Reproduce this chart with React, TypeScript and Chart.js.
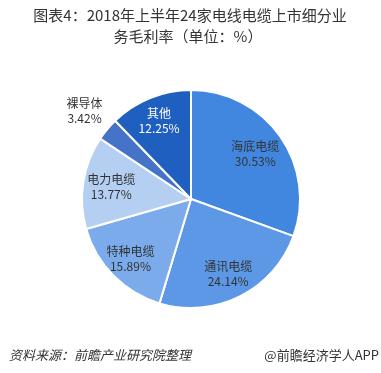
import React, { useEffect, useRef } from "react";
import { Chart, registerables } from "chart.js";

Chart.register(...registerables);

const categories = ["海底电缆", "通讯电缆", "特种电缆", "电力电缆", "裸导体", "其他"];
const values = [30.53, 24.14, 15.89, 13.77, 3.42, 12.25];
const colors = ["#4187E0", "#5C98E6", "#7BABEA", "#B5CFF3", "#4573C8", "#1F5FC0"];
const labelColors = ["#333333", "#333333", "#333333", "#333333", "#333333", "#FFFFFF"];
const labelRadiusFactor = [0.72, 0.76, 0.78, 0.74, 1.27, 0.78];
const titleLines = ["图表4：2018年上半年24家电线电缆上市细分业", "务毛利率（单位：%）"];
const sourceText = "资料来源：前瞻产业研究院整理";
const brandText = "@前瞻经济学人APP";

const FONT = '"Noto Sans CJK SC", "Noto Sans", sans-serif';

const decorPlugin = {
  id: "decor",
  afterDraw(chart: any) {
    const ctx = chart.ctx;
    ctx.save();
    // title
    ctx.fillStyle = "#333333";
    ctx.font = `15px ${FONT}`;
    ctx.textAlign = "center";
    ctx.textBaseline = "middle";
    ctx.fillText(titleLines[0], 190, 15);
    ctx.fillText(titleLines[1], 188, 36);
    // slice labels
    const meta = chart.getDatasetMeta(0);
    meta.data.forEach((arc: any, i: number) => {
      const { x, y, startAngle, endAngle, outerRadius } = arc.getProps(
        ["x", "y", "startAngle", "endAngle", "outerRadius"],
        true
      );
      const mid = (startAngle + endAngle) / 2;
      const r = outerRadius * labelRadiusFactor[i];
      const lx = x + Math.cos(mid) * r;
      const ly = y + Math.sin(mid) * r;
      ctx.fillStyle = labelColors[i];
      ctx.font = `12px ${FONT}`;
      ctx.fillText(categories[i], lx, ly - 7);
      ctx.fillText(values[i].toFixed(2) + "%", lx, ly + 8);
    });
    // footer
    ctx.fillStyle = "#333333";
    ctx.font = `italic 13px ${FONT}`;
    ctx.textAlign = "left";
    ctx.fillText(sourceText, 9, 355);
    ctx.font = `13px ${FONT}`;
    ctx.textAlign = "right";
    ctx.fillText(brandText, 379, 355);
    ctx.restore();
  },
};

export default function App() {
  const ref = useRef<HTMLCanvasElement>(null);
  useEffect(() => {
    if (!ref.current) return;
    const chart = new Chart(ref.current, {
      type: "pie",
      data: {
        labels: categories,
        datasets: [
          {
            data: values,
            backgroundColor: colors,
            borderColor: "#FFFFFF",
            borderWidth: 2,
          },
        ],
      },
      options: {
        animation: false,
        responsive: false,
        layout: { padding: { left: 81, right: 80, top: 89, bottom: 64 } },
        plugins: {
          legend: { display: false },
          title: { display: false },
          tooltip: { enabled: false },
        },
      },
      plugins: [decorPlugin],
    });
    return () => chart.destroy();
  }, []);
  return (
    <div style={{ position: "absolute", left: 0, top: 0, width: 381, height: 373, background: "#fff" }}>
      <canvas ref={ref} width={381} height={373} />
    </div>
  );
}
